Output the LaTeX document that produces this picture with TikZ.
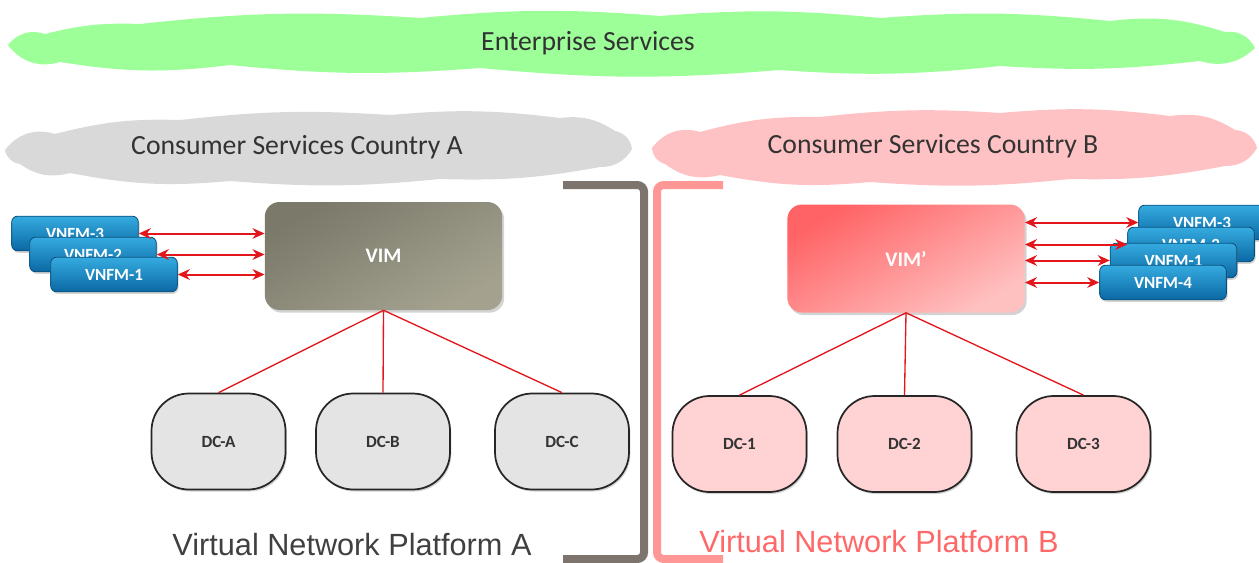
\documentclass[tikz,border=0pt]{standalone}
\usepackage{fontspec}
\setmainfont{Carlito}
\newfontfamily\platformfont{Liberation Sans}
\usepackage{tikz}
\usetikzlibrary{shadows, arrows.meta, calc}

\definecolor{entgreen}{HTML}{9CFF98}
\definecolor{consgrey}{HTML}{D9D9D9}
\definecolor{conspink}{HTML}{FFC2C4}
\definecolor{vimdark}{HTML}{7A796A}
\definecolor{vimlight}{HTML}{A4A28F}
\definecolor{vimbdark}{HTML}{FF6365}
\definecolor{vimblight}{HTML}{FFC0C0}
\definecolor{vnfmtop}{HTML}{35ABE0}
\definecolor{vnfmbot}{HTML}{0B68A3}
\definecolor{vnfmline}{HTML}{0A4F7C}
\definecolor{dcgrey}{HTML}{E4E4E4}
\definecolor{dcpink}{HTML}{FFD2D3}
\definecolor{linkred}{HTML}{E3161B}
\definecolor{brkgrey}{HTML}{7D746D}
\definecolor{brkpink}{HTML}{FF9797}
\definecolor{platpink}{HTML}{FF6868}
\definecolor{textgrey}{HTML}{333333}

\tikzset{
    cloudtext/.style={font=\fontsize{20.8}{24}\selectfont, text=textgrey},
    vimbox/.style={rounded corners=11pt, minimum width=178pt, minimum height=81pt,
        drop shadow={shadow xshift=1.5pt, shadow yshift=-2pt, opacity=0.35},
        font=\fontsize{15.5}{18}\bfseries\selectfont, text=white},
    vnfmbox/.style={rounded corners=4.5pt, minimum width=95pt, minimum height=26pt,
        top color=vnfmtop, bottom color=vnfmbot, draw=vnfmline, line width=0.6pt,
        drop shadow={shadow xshift=1pt, shadow yshift=-1.5pt, opacity=0.35},
        font=\fontsize{12.8}{15}\bfseries\selectfont, text=white, inner sep=0pt},
    dcbox/.style={rounded corners=28pt, minimum width=100.5pt, minimum height=72pt,
        draw=black!85, line width=1.3pt,
        drop shadow={shadow xshift=1pt, shadow yshift=-1.5pt, opacity=0.35},
        font=\fontsize{12.8}{15}\bfseries\selectfont, text=textgrey},
    link/.style={draw=linkred, line width=1pt},
    dbl/.style={draw=linkred, line width=1.5pt, {Stealth[length=9pt,width=8pt]}-{Stealth[length=9pt,width=8pt]}},
    bracket/.style={line width=6pt, rounded corners=5pt},
    platform/.style={font=\platformfont\fontsize{23}{26}\selectfont}
}

\begin{document}
\begin{tikzpicture}[x=0.75pt, y=-0.75pt]
    \useasboundingbox (0,0) rectangle (1259,563);

    % clouds
    \fill[entgreen] (8,45) to[bend left=35] (45,34) to[bend left=8] (140,24)
        to[bend left=5] (420,18) to[bend left=5] (660,16) to[bend left=5] (880,18)
        to[bend left=5] (1110,21) to[bend left=12] (1225,32) to[bend left=35] (1255,48)
        to[bend left=30] (1200,61) to[bend left=5] (1000,66) to[bend left=5] (780,70)
        to[bend left=5] (480,68) to[bend left=5] (230,65) to[bend left=8] (60,62)
        to[bend left=35] (8,45) -- cycle;
    \node[cloudtext] (entText) at (588,43) {Enterprise Services};

    \fill[consgrey] (5,150) to[bend left=35] (55,134) to[bend left=8] (180,120)
        to[bend left=5] (390,115) to[bend left=6] (560,118) to[bend left=20] (615,131)
        to[bend left=35] (632,149) to[bend left=30] (600,167) to[bend left=6] (440,179)
        to[bend left=5] (230,181) to[bend left=8] (70,173) to[bend left=25] (20,164)
        to[bend left=35] (5,150) -- cycle;
    \node[cloudtext] (consAText) at (297,147) {Consumer Services Country A};

    \fill[conspink] (652,148) to[bend left=35] (700,132) to[bend left=8] (820,117)
        to[bend left=5] (1000,113) to[bend left=6] (1170,116) to[bend left=20] (1235,130)
        to[bend left=35] (1257,148) to[bend left=30] (1225,166) to[bend left=6] (1070,179)
        to[bend left=5] (870,182) to[bend left=8] (720,175) to[bend left=25] (665,164)
        to[bend left=35] (652,148) -- cycle;
    \node[cloudtext] (consBText) at (933,146) {Consumer Services Country B};

    % platform brackets
    \draw[bracket, brkgrey] (563,185) -- (644,185) -- (644,559) -- (563,559);
    \draw[bracket, brkpink] (723,185) -- (657,185) -- (657,559) -- (723,559);

    % VIMs
    \node[vimbox, top color=vimdark, bottom color=vimlight, shading angle=30] (vim) at (383.5,256) {VIM};
    \node[vimbox, top color=vimbdark, bottom color=vimblight, shading angle=30] (vimB) at (906,258.5) {VIM’};

    % VNFMs platform A
    \node[vnfmbox] (vnfmA3) at (75,233.5) {VNFM-3};
    \node[vnfmbox] (vnfmA2) at (93,254.5) {VNFM-2};
    \node[vnfmbox] (vnfmA1) at (114,274.5) {VNFM-1};

    % VNFMs platform B
    \node[vnfmbox] (vnfmB3) at (1202,222.5) {VNFM-3};
    \node[vnfmbox] (vnfmB2) at (1191,244.5) {VNFM-2};
    \node[vnfmbox] (vnfmB1) at (1173.5,260.5) {VNFM-1};
    \node[vnfmbox] (vnfmB4) at (1163,282.5) {VNFM-4};

    \foreach \n in {A3,A2,A1}
        \draw[dbl] (vnfm\n.east) -- (vnfm\n.east -| vim.west);
    \foreach \n in {B3,B2,B1,B4}
        \draw[dbl] (vnfm\n.west) -- (vnfm\n.west -| vimB.east);

    % data centres
    \node[dcbox, fill=dcgrey] (dcA) at (218.5,441.5) {DC-A};
    \node[dcbox, fill=dcgrey] (dcB) at (383,441.5) {DC-B};
    \node[dcbox, fill=dcgrey] (dcC) at (562,441.5) {DC-C};
    \node[dcbox, fill=dcpink] (dc1) at (739.5,444) {DC-1};
    \node[dcbox, fill=dcpink] (dc2) at (904.5,444) {DC-2};
    \node[dcbox, fill=dcpink] (dc3) at (1083.5,444) {DC-3};

    \foreach \d in {dcA,dcB,dcC}
        \draw[link] (vim.south) -- (\d.north);
    \foreach \d in {dc1,dc2,dc3}
        \draw[link] (vimB.south) -- (\d.north);

    % labels
    \node[platform, text=black!75] (platA) at (352,545) {Virtual Network Platform A};
    \node[platform, text=platpink] (platB) at (879,542) {Virtual Network Platform B};
\end{tikzpicture}
\end{document}
